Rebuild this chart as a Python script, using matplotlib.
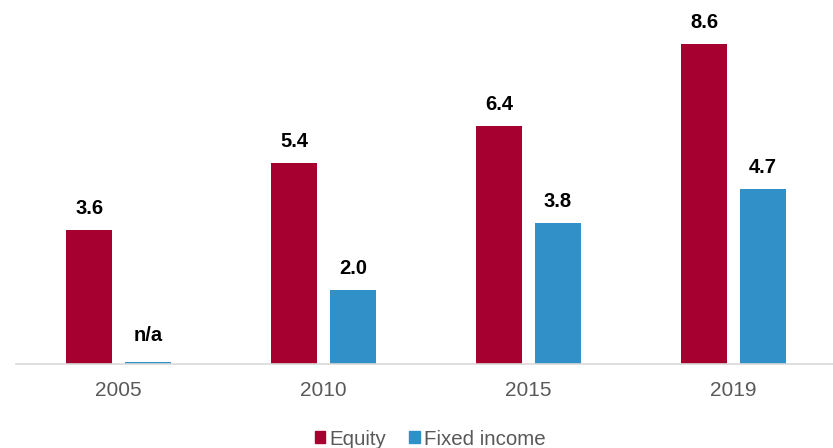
#!/usr/bin/env python3

import numpy as np
import matplotlib.pyplot as plt
from matplotlib.patches import Patch

years = ['2005', '2010', '2015', '2019']
equity = [3.6, 5.4, 6.4, 8.6]
fixed_income = [0.05, 2.0, 3.8, 4.7]
equity_labels = ['3.6', '5.4', '6.4', '8.6']
fixed_labels = ['n/a', '2.0', '3.8', '4.7']

red = '#A5002F'
blue = '#3190C8'
grey = '#595959'

plt.rcParams['font.family'] = ['Liberation Sans', 'DejaVu Sans']

fig = plt.figure(figsize=(8.33, 4.48), dpi=100)
ax = fig.add_axes([16 / 833, 84 / 448, 820 / 833, 364 / 448])

x = np.arange(len(years))
w = 0.225
off = 0.143
b1 = ax.bar(x - off, equity, w, color=red)
b2 = ax.bar(x + off, fixed_income, w, color=blue)

# labels sit a little above the bar; the n/a bar is almost flat so lift it a bit
for bars, labels in ((b1, equity_labels), (b2, fixed_labels)):
  for bar, lab in zip(bars, labels):
    ax.annotate(lab, (bar.get_x() + bar.get_width() / 2, max(bar.get_height(), 0.2)),
                xytext=(0, 11.5), textcoords='offset points',
                ha='center', va='baseline', fontsize=14.5, fontweight='bold',
                color='black')

ax.set_xlim(-0.5, 3.5)
ax.set_ylim(0, 9.785)
ax.set_xticks(x)
ax.set_xticklabels(years, fontsize=15, color=grey)
ax.tick_params(axis='x', length=0, pad=12)
ax.set_yticks([])
for s in ['top', 'right', 'left']:
  ax.spines[s].set_visible(False)
ax.spines['bottom'].set_color('#D9D9D9')
ax.spines['bottom'].set_linewidth(1.2)

handles = [Patch(color=red, label='Equity'), Patch(color=blue, label='Fixed income')]
leg = fig.legend(handles=handles, loc='center', bbox_to_anchor=(430 / 833, 9 / 448),
                 ncol=2, frameon=False, fontsize=14.8, handlelength=0.5,
                 handleheight=0.5, handletextpad=0.2, columnspacing=1.15,
                 borderpad=0)
for t in leg.get_texts():
  t.set_color(grey)

fig.savefig('out.png', dpi=100)
